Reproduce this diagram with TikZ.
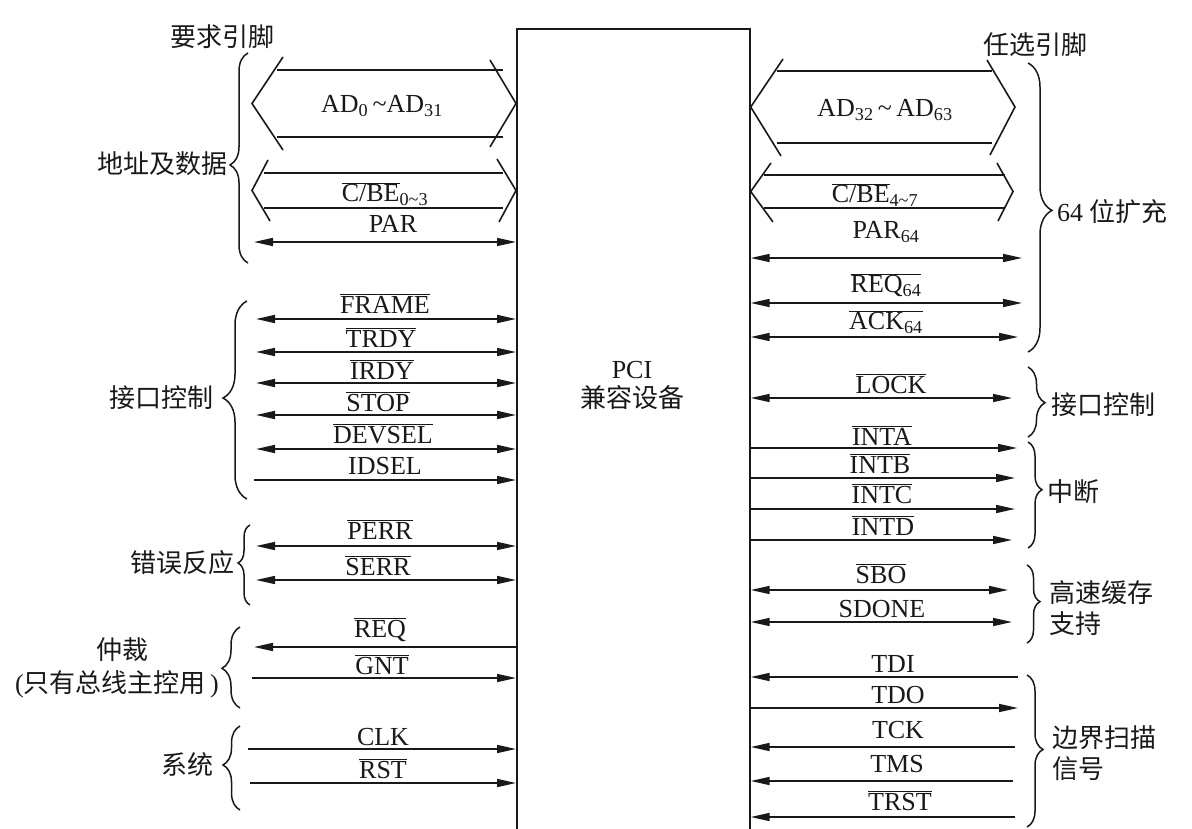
\documentclass[tikz,border=0pt]{standalone}
\usepackage{fontspec}
\setmainfont{Liberation Serif}
\newfontfamily\cjk{Noto Sans CJK SC}
\usetikzlibrary{arrows.meta,decorations.pathreplacing}
\newcommand{\olbar}[1]{\ensuremath{\overline{\mbox{#1}}}}
\newcommand{\mytilde}{\textasciitilde}
\tikzset{
  lbl/.style={font=\fontsize{26}{30}\selectfont, anchor=base, inner sep=0pt},
  cn/.style={font=\cjk\fontsize{26}{31}\selectfont, inner sep=0pt},
  sig/.style={line width=1.6pt},
  bus/.style={line width=1.6pt, line join=miter},
  brc/.style={line width=1.5pt, decorate},
  chipbox/.style={draw, line width=1.7pt, minimum width=233pt, minimum height=820pt, anchor=north west, inner sep=0pt},
}
\begin{document}
\begin{tikzpicture}[x=1pt,y=-1pt, >={Triangle[length=19pt,width=8pt]}, color=black!90]
\useasboundingbox (0,0) rectangle (1192,829);
\clip (0,0) rectangle (1192,829);
\fill[white] (0,0) rectangle (1192,829);

% chip
\node[chipbox] (chip) at (516,28) {};
\node[font=\rmfamily\fontsize{26}{29}\selectfont, align=center, inner sep=0pt] (chiplabel) at (632,385) {PCI\\{\cjk 兼容设备}};

% headings
\node[cn] (req) at (222,37) {要求引脚};
\node[cn] (opt) at (1035,45) {任选引脚};

% ---------- left buses
\draw[bus] (277,70) -- (503,70) (277,137) -- (503,137);
\draw[bus] (283,57) -- (252,103.5) -- (283,150);
\draw[bus] (490,60) -- (chip.west |- 0,103.5) -- (490,147);
\node[lbl] (ad0) at (382,113) {AD\textsubscript{0}\,\mytilde AD\textsubscript{31}};

\draw[bus] (264,173) -- (503,173) (264,208) -- (503,208);
\draw[bus] (268,160) -- (252,190.5) -- (270,221);
\draw[bus] (497,159) -- (chip.west |- 0,190.5) -- (499,222);
\node[lbl] (cbe0) at (385,202) {\olbar{C/BE}\textsubscript{0\mytilde3}};

% ---------- right buses
\draw[bus] (777,71) -- (992,71) (777,143) -- (992,143);
\draw[bus] (783,59) -- (chip.east |- 0,107) -- (781,156);
\draw[bus] (987,60) -- (1015,107) -- (990,155);
\node[lbl] (ad32) at (885,117) {AD\textsubscript{32}\,\mytilde\,AD\textsubscript{63}};

\draw[bus] (764,175) -- (1005,175) (764,208) -- (1005,208);
\draw[bus] (771,163) -- (chip.east |- 0,191.5) -- (773,222);
\draw[bus] (997,163) -- (1013,191.5) -- (998,221);
\node[lbl] (cbe4) at (875,203) {\olbar{C/BE}\textsubscript{4\mytilde7}};

% ---------- left signals
\coordinate (lPAR) at (254,242);
\coordinate (lFRAME) at (256,319);
\coordinate (lTRDY) at (256,352);
\coordinate (lIRDY) at (256,383);
\coordinate (lSTOP) at (256,415);
\coordinate (lDEVSEL) at (256,449);
\coordinate (lIDSEL) at (254,480);
\coordinate (lPERR) at (256,546);
\coordinate (lSERR) at (256,580);
\coordinate (lREQ) at (254,647);
\coordinate (lGNT) at (252,678);
\coordinate (lCLK) at (248,749);
\coordinate (lRST) at (250,783);

\foreach \s in {PAR,FRAME,TRDY,IRDY,STOP,DEVSEL,PERR,SERR}
  \draw[sig,<->] (l\s) -- (l\s -| chip.west);
\foreach \s in {IDSEL,GNT,CLK,RST}
  \draw[sig,->] (l\s) -- (l\s -| chip.west);
\draw[sig,->] (lREQ -| chip.west) -- (lREQ);

\node[lbl] (tPAR) at (393,233) {PAR};
\node[lbl] (tFRAME) at (385,313) {\olbar{FRAME}};
\node[lbl] (tTRDY) at (381,347) {\olbar{TRDY}};
\node[lbl] (tIRDY) at (382,379) {\olbar{IRDY}};
\node[lbl] (tSTOP) at (378,411) {\olbar{STOP}};
\node[lbl] (tDEVSEL) at (383,443) {\olbar{DEVSEL}};
\node[lbl] (tIDSEL) at (385,474) {IDSEL};
\node[lbl] (tPERR) at (380,539) {\olbar{PERR}};
\node[lbl] (tSERR) at (378,575) {\olbar{SERR}};
\node[lbl] (tREQ) at (380,637) {\olbar{REQ}};
\node[lbl] (tGNT) at (382,674) {\olbar{GNT}};
\node[lbl] (tCLK) at (383,745) {CLK};
\node[lbl] (tRST) at (383,778) {\olbar{RST}};

% ---------- right signals
\coordinate (rPAR) at (1022,258);
\coordinate (rREQ) at (1022,303);
\coordinate (rACK) at (1018,337);
\coordinate (rLOCK) at (1012,398);
\coordinate (rINTA) at (1017,448);
\coordinate (rINTB) at (1015,478);
\coordinate (rINTC) at (1015,509);
\coordinate (rINTD) at (1012,540);
\coordinate (rSBO) at (1008,590);
\coordinate (rSDONE) at (1012,622);
\coordinate (rTDI) at (1018,677);
\coordinate (rTDO) at (1018,708);
\coordinate (rTCK) at (1015,747);
\coordinate (rTMS) at (1013,781);
\coordinate (rTRST) at (1015,817);

\foreach \s in {PAR,REQ,ACK,LOCK,SBO,SDONE}
  \draw[sig,<->] (r\s -| chip.east) -- (r\s);
\foreach \s in {INTA,INTB,INTC,INTD,TDO}
  \draw[sig,->] (r\s -| chip.east) -- (r\s);
\foreach \s in {TDI,TCK,TMS,TRST}
  \draw[sig,->] (r\s) -- (r\s -| chip.east);

\node[lbl] (tPAR64) at (886,239) {PAR\textsubscript{64}};
\node[lbl] (tREQ64) at (886,293) {\olbar{REQ\textsubscript{64}}};
\node[lbl] (tACK64) at (886,330) {\olbar{ACK\textsubscript{64}}};
\node[lbl] (tLOCK) at (891,393) {\olbar{LOCK}};
\node[lbl] (tINTA) at (882,445) {\olbar{INTA}};
\node[lbl] (tINTB) at (880,473) {\olbar{INTB}};
\node[lbl] (tINTC) at (882,503) {\olbar{INTC}};
\node[lbl] (tINTD) at (883,535) {\olbar{INTD}};
\node[lbl] (tSBO) at (881,583) {\olbar{SBO}};
\node[lbl] (tSDONE) at (882,617) {SDONE};
\node[lbl] (tTDI) at (893,672) {TDI};
\node[lbl] (tTDO) at (898,703) {TDO};
\node[lbl] (tTCK) at (898,738) {TCK};
\node[lbl] (tTMS) at (897,772) {TMS};
\node[lbl] (tTRST) at (900,810) {\olbar{TRST}};

% ---------- left braces
\draw[brc, decoration={brace, amplitude=18pt, aspect=0.467}] (248,263) -- (248,53);
\node[cn, anchor=east] (gAddr) at (228,164) {地址及数据};
\draw[brc, decoration={brace, amplitude=24pt, aspect=0.51}] (247,499) -- (247,301);
\node[cn, anchor=east] (gCtrlL) at (214,398) {接口控制};
\draw[brc, decoration={brace, amplitude=12pt, aspect=0.525}] (250,605) -- (250,525);
\node[cn, anchor=east] (gErr) at (235,563) {错误反应};
\draw[brc, decoration={brace, amplitude=18pt, aspect=0.49}] (240,708) -- (240,627);
\node[cn] (gArb) at (122,650) {仲裁};
\node[cn] (gArb2) at (117,684) {{\rmfamily (}只有总线主控用{\rmfamily\,)}};
\draw[brc, decoration={brace, amplitude=17pt, aspect=0.536}] (240,810) -- (240,726);
\node[cn, anchor=east] (gSys) at (214,765) {系统};

% ---------- right braces
\draw[brc, decoration={brace, amplitude=24pt, aspect=0.51}] (1028,63) -- (1028,352);
\node[cn, anchor=west] (g64) at (1057,212) {{\rmfamily 64} 位扩充};
\draw[brc, decoration={brace, amplitude=17pt, aspect=0.51}] (1028,367) -- (1028,437);
\node[cn, anchor=west] (gCtrlR) at (1051,405) {接口控制};
\draw[brc, decoration={brace, amplitude=14pt, aspect=0.45}] (1028,442) -- (1028,548);
\node[cn, anchor=west] (gInt) at (1047,492) {中断};
\draw[brc, decoration={brace, amplitude=13pt, aspect=0.47}] (1027,565) -- (1027,643);
\node[cn, anchor=west, align=left] (gCache) at (1049,608) {高速缓存\\支持};
\draw[brc, decoration={brace, amplitude=16pt, aspect=0.49}] (1027,675) -- (1027,827);
\node[cn, anchor=west, align=left] (gScan) at (1052,753) {边界扫描\\信号};
\end{tikzpicture}
\end{document}
